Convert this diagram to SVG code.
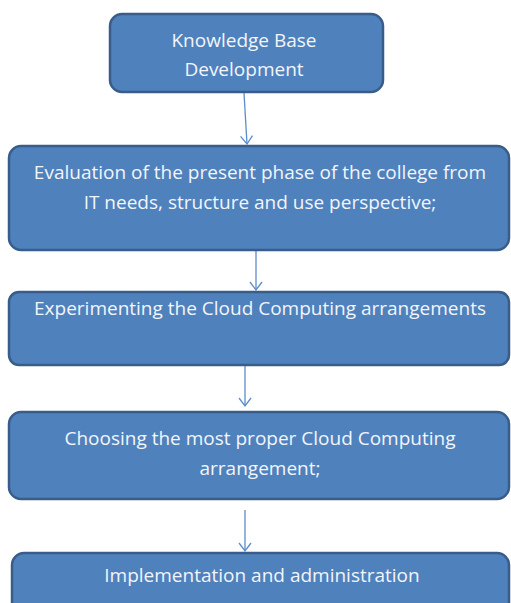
<svg xmlns="http://www.w3.org/2000/svg" width="511" height="603" viewBox="0 0 511 603">
  <style>
    .box { fill: #4f81bd; stroke: #385d8a; stroke-width: 2.5; }
    .lbl { font-family: "Open Sans", "Liberation Sans", sans-serif; font-size: 19px; fill: #f2f5fa; text-anchor: middle; }
    .link { stroke: #5b8ccc; stroke-width: 1.3; fill: none; }
  </style>
  <defs>
    <marker id="open" markerWidth="14" markerHeight="14" refX="12" refY="7" orient="auto" markerUnits="userSpaceOnUse" viewBox="0 0 14 14">
      <path d="M4,1 L12,7 L4,13" fill="none" stroke="#5b8ccc" stroke-width="1.3"/>
    </marker>
  </defs>

  <g id="connectors">
    <line class="link" x1="244" y1="93" x2="247" y2="144" marker-end="url(#open)"/>
    <line class="link" x1="256" y1="251" x2="256" y2="290" marker-end="url(#open)"/>
    <line class="link" x1="245" y1="366" x2="245" y2="406" marker-end="url(#open)"/>
    <line class="link" x1="245" y1="510" x2="245" y2="551" marker-end="url(#open)"/>
  </g>

  <g id="knowledge-base">
    <rect class="box" x="110" y="14" width="273" height="78" rx="12"/>
    <text class="lbl" x="244" y="47">Knowledge Base</text>
    <text class="lbl" x="244" y="76">Development</text>
  </g>

  <g id="evaluation">
    <rect class="box" x="9" y="146" width="500" height="104" rx="12"/>
    <text class="lbl" x="260" y="179">Evaluation of the present phase of the college from</text>
    <text class="lbl" x="260" y="209">IT needs, structure and use perspective;</text>
  </g>

  <g id="experimenting">
    <rect class="box" x="9" y="292" width="500" height="73" rx="10"/>
    <text class="lbl" x="260" y="315">Experimenting the Cloud Computing arrangements</text>
  </g>

  <g id="choosing">
    <rect class="box" x="9" y="412" width="500" height="87" rx="12"/>
    <text class="lbl" x="260" y="445">Choosing the most proper Cloud Computing</text>
    <text class="lbl" x="260" y="475">arrangement;</text>
  </g>

  <g id="implementation">
    <rect class="box" x="12" y="553" width="497" height="70" rx="12"/>
    <text class="lbl" x="262" y="582">Implementation and administration</text>
  </g>
</svg>
